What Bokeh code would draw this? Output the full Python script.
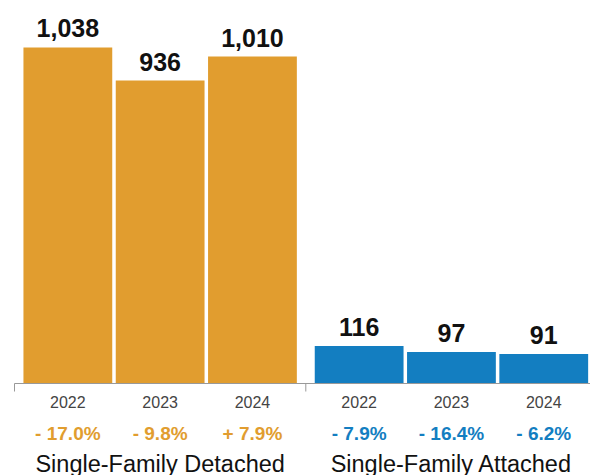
from bokeh.plotting import figure
from bokeh.models import Range1d, ColumnDataSource
from bokeh.core.properties import value
from bokeh.embed import file_html
from bokeh.resources import INLINE

# ---- data ----
categories = ["Single-Family Detached", "Single-Family Attached"]
years = ["2022", "2023", "2024"]
detached = [1038, 936, 1010]
attached = [116, 97, 91]
detached_change = [-17.0, -9.8, 7.9]
attached_change = [-7.9, -16.4, -6.2]
colors = ["#E19D2F", "#137EC1"]

series = [detached, attached]
changes = [detached_change, attached_change]

# ---- layout ----
W, H = 590, 475
pad = 0.078
bar_w = 0.962
panel_w = 3 + 2 * pad
left_px = 14
xscale = 92.3
x_end = (W - left_px) / xscale
base_px = 383  # baseline distance from top of figure
ypx = 1 / 0.3237  # data units per pixel
y_top = base_px * ypx
y_bottom = -(H - base_px) * ypx

p = figure(width=W, height=H, output_backend="svg", toolbar_location=None,
           x_range=Range1d(-left_px / xscale, x_end),
           y_range=Range1d(y_bottom, y_top),
           x_axis_location=None, y_axis_location=None, min_border=0)
p.grid.visible = False
p.outline_line_color = None
p.background_fill_color = "white"
p.border_fill_color = "white"

FONT = value("Liberation Sans")

def fmt_change(c):
    sign = "+" if c > 0 else "-"
    return f"{sign} {abs(c):.1f}%"

for g, (cat, vals, chg, col) in enumerate(zip(categories, series, changes, colors)):
    xs = [g * panel_w + pad + i + 0.5 for i in range(len(years))]
    src = ColumnDataSource(dict(
        x=xs, top=vals, year=years,
        lab=[f"{v:,}" for v in vals],
        chg=[fmt_change(c) for c in chg],
    ))
    p.vbar(x="x", top="top", bottom=0, width=bar_w, source=src,
           fill_color=col, line_color=None)
    p.text(x="x", y="top", text="lab", source=src, y_offset=-19,
           text_align="center", text_baseline="alphabetic",
           text_font=FONT, text_font_style="bold", text_font_size="25px",
           text_color="#111111")
    p.text(x="x", y=0, text="year", source=src, y_offset=18,
           text_align="center", text_baseline="alphabetic",
           text_font=FONT, text_font_size="16px", text_color="#444444")
    p.text(x="x", y=0, text="chg", source=src, y_offset=50,
           text_align="center", text_baseline="alphabetic",
           text_font=FONT, text_font_style="bold", text_font_size="19px",
           text_color=col)
    p.text(x=[g * panel_w + panel_w / 2], y=[0], text=[cat], y_offset=80,
           text_align="center", text_baseline="alphabetic",
           text_font=FONT, text_font_size="23.5px", text_color="#111111")

# axis line and ticks at panel boundaries
p.segment(x0=[0], y0=[0], x1=[2 * panel_w], y1=[0], line_color="#999999", line_width=1)
tick_x = [0, panel_w, 2 * panel_w]
p.segment(x0=tick_x, y0=[0] * 3, x1=tick_x, y1=[-8 * ypx] * 3,
          line_color="#999999", line_width=1)

open("out.html", "w").write(file_html(p, INLINE))
